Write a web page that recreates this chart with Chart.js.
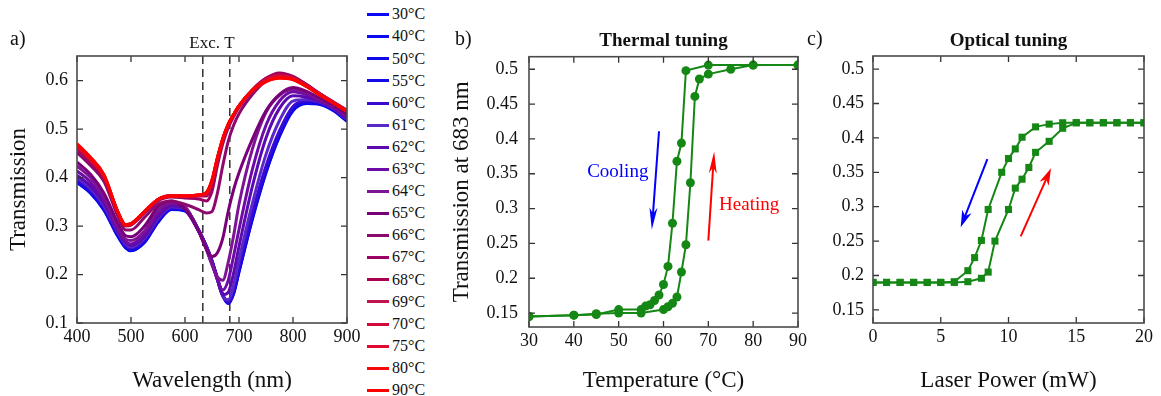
<!DOCTYPE html>
<html>
<head>
<meta charset="utf-8">
<script src="https://cdn.jsdelivr.net/npm/chart.js@4.4.0/dist/chart.umd.min.js"></script>
<style>
body{margin:0;background:#fff;width:1161px;height:396px;overflow:hidden;position:relative;font-family:"Liberation Serif",serif;color:#111;}
canvas{position:absolute;top:0;}
.lbl{position:absolute;font-size:20px;line-height:24px;}
.li{position:absolute;left:367px;height:22px;font-size:16px;line-height:22px;white-space:nowrap;}
.li span{display:inline-block;width:22px;height:3px;vertical-align:middle;margin-right:3px;position:relative;top:-1px;}
</style>
</head>
<body>
<canvas id="ca" width="367" height="396" style="left:0"></canvas>
<canvas id="cb" width="370" height="396" style="left:440px"></canvas>
<canvas id="cc" width="351" height="396" style="left:810px"></canvas>
<div id="legend"></div>
<div class="lbl" style="left:10px;top:26px">a)</div>
<div class="lbl" style="left:455px;top:26px">b)</div>
<div class="lbl" style="left:807px;top:26px">c)</div>
<script>
var F = "Liberation Serif";

// ---- panel a: spectra ----
var wavelengths = [400,425,450,475,490,500,525,550,575,600,625,640,650,660,670,680,690,700,725,750,775,800,825,850,875,900];
var temps = [30,40,50,55,60,61,62,63,64,65,66,67,68,69,70,75,80,90];
var colors = ['#0a0af5','#0a0af0','#0f0aeb','#140ae6','#3a0ad2','#5a28c8','#5a0aaf','#6e0aa5','#7d1496','#780078',
              '#8c0a6e','#9b0064','#aa0050','#be1450','#d20a3c','#e10a32','#f50a0a','#ff0000'];
var t30 = [0.390,0.368,0.333,0.280,0.255,0.249,0.266,0.308,0.334,0.331,0.290,0.255,0.226,0.190,0.156,0.140,0.160,0.205,0.315,0.410,0.485,0.538,0.553,0.551,0.538,0.516];
var t40 = [0.391,0.369,0.334,0.281,0.256,0.250,0.267,0.309,0.335,0.332,0.291,0.256,0.227,0.191,0.157,0.141,0.162,0.207,0.317,0.412,0.487,0.540,0.554,0.552,0.539,0.517];
var t50 = [0.393,0.371,0.336,0.282,0.257,0.251,0.268,0.310,0.336,0.333,0.292,0.257,0.228,0.192,0.158,0.142,0.164,0.209,0.320,0.415,0.489,0.541,0.555,0.553,0.540,0.518];
var t55 = [0.394,0.372,0.337,0.284,0.258,0.252,0.270,0.311,0.337,0.334,0.292,0.257,0.228,0.192,0.158,0.142,0.165,0.211,0.322,0.418,0.491,0.543,0.556,0.554,0.541,0.519];
var t60 = [0.396,0.374,0.339,0.286,0.260,0.254,0.272,0.313,0.338,0.335,0.293,0.257,0.228,0.192,0.157,0.143,0.168,0.216,0.328,0.424,0.497,0.547,0.558,0.555,0.542,0.520];
var t61 = [0.400,0.378,0.342,0.289,0.263,0.257,0.275,0.316,0.340,0.336,0.292,0.256,0.226,0.190,0.155,0.148,0.178,0.230,0.348,0.448,0.518,0.558,0.561,0.556,0.542,0.521];
var t62 = [0.405,0.383,0.347,0.292,0.266,0.260,0.278,0.319,0.342,0.337,0.291,0.254,0.224,0.189,0.158,0.163,0.203,0.258,0.383,0.482,0.543,0.569,0.566,0.557,0.543,0.523];
var t63 = [0.414,0.391,0.353,0.295,0.268,0.263,0.283,0.325,0.345,0.338,0.290,0.252,0.222,0.190,0.168,0.188,0.238,0.293,0.418,0.508,0.558,0.577,0.571,0.559,0.545,0.526];
var t64 = [0.424,0.400,0.360,0.300,0.273,0.270,0.290,0.332,0.348,0.340,0.290,0.250,0.220,0.195,0.188,0.225,0.280,0.345,0.460,0.535,0.570,0.582,0.575,0.561,0.547,0.528];
var t65 = [0.432,0.407,0.368,0.308,0.280,0.278,0.300,0.340,0.352,0.335,0.290,0.252,0.237,0.245,0.275,0.330,0.375,0.410,0.480,0.538,0.572,0.586,0.578,0.564,0.549,0.531];
var t66 = [0.452,0.425,0.392,0.322,0.292,0.292,0.318,0.345,0.352,0.345,0.334,0.327,0.330,0.368,0.425,0.475,0.508,0.532,0.572,0.600,0.613,0.607,0.592,0.573,0.556,0.539];
var t67 = [0.460,0.432,0.398,0.327,0.300,0.302,0.327,0.352,0.360,0.358,0.356,0.352,0.372,0.425,0.470,0.503,0.526,0.545,0.580,0.605,0.616,0.609,0.592,0.573,0.555,0.538];
var t68 = [0.462,0.434,0.400,0.329,0.302,0.304,0.329,0.354,0.362,0.361,0.362,0.362,0.385,0.435,0.477,0.508,0.530,0.548,0.582,0.605,0.614,0.607,0.591,0.572,0.555,0.538];
var t69 = [0.464,0.436,0.402,0.330,0.303,0.305,0.330,0.355,0.363,0.362,0.363,0.366,0.390,0.438,0.479,0.509,0.530,0.548,0.581,0.603,0.611,0.606,0.590,0.572,0.555,0.538];
var t70 = [0.465,0.437,0.403,0.331,0.303,0.305,0.330,0.355,0.363,0.362,0.364,0.368,0.393,0.440,0.480,0.510,0.530,0.548,0.580,0.601,0.609,0.605,0.589,0.571,0.554,0.537];
var t75 = [0.467,0.439,0.404,0.331,0.302,0.305,0.330,0.355,0.362,0.362,0.364,0.369,0.394,0.440,0.480,0.510,0.530,0.548,0.580,0.599,0.607,0.604,0.589,0.571,0.554,0.537];
var t80 = [0.469,0.441,0.405,0.331,0.302,0.304,0.330,0.355,0.362,0.362,0.364,0.370,0.395,0.441,0.481,0.510,0.530,0.548,0.580,0.598,0.606,0.603,0.588,0.571,0.554,0.537];
var t90 = [0.470,0.442,0.406,0.331,0.302,0.304,0.330,0.355,0.362,0.362,0.364,0.370,0.395,0.441,0.481,0.510,0.530,0.548,0.580,0.598,0.605,0.602,0.588,0.570,0.554,0.537];
var spectra = [t30,t40,t50,t55,t60,t61,t62,t63,t64,t65,t66,t67,t68,t69,t70,t75,t80,t90];
var xTicksA = [400,500,600,700,800,900];
var yTicksA = [0.1,0.2,0.3,0.4,0.5,0.6];

// ---- panel b: thermal tuning (T at 683 nm) ----
var heatT = [30,40,45,50,55,60,61,62,63,64,65,66,67,68,70,75,80,90];
var heatV = [0.145,0.147,0.149,0.150,0.150,0.155,0.159,0.164,0.173,0.209,0.248,0.337,0.461,0.486,0.493,0.500,0.506,0.506];
var coolT = [90,80,70,65,64,63,62,61,60,59,58,57,56,55,50,45,40,30];
var coolV = [0.506,0.506,0.506,0.498,0.394,0.368,0.279,0.217,0.191,0.176,0.168,0.162,0.160,0.155,0.155,0.148,0.147,0.145];
var xTicksB = [30,40,50,60,70,80,90];

// ---- panel c: optical tuning ----
var upP = [0,1,2,3,4,5,6,7,8,8.5,9,10,10.5,11,11.5,12,13,14,15,16,17,18,19,20];
var upV = [0.19,0.19,0.19,0.19,0.19,0.19,0.19,0.191,0.196,0.205,0.250,0.296,0.327,0.340,0.357,0.379,0.395,0.414,0.422,0.422,0.422,0.422,0.422,0.422];
var downP = [20,19,18,17,16,15,14,13,12,11,10.5,10,9.5,8.5,8,7.5,7,6,5,4,3,2,1,0];
var downV = [0.422,0.422,0.422,0.422,0.422,0.422,0.422,0.420,0.416,0.401,0.384,0.370,0.350,0.296,0.251,0.226,0.207,0.191,0.19,0.19,0.19,0.19,0.19,0.19];
var xTicksC = [0,5,10,15,20];
var yTicksBC = [0.15,0.2,0.25,0.3,0.35,0.4,0.45,0.5];

function pts(xs, ys){ return xs.map(function(x,i){ return {x:x, y:ys[i]}; }); }
function fixTicks(list){ return function(s){ s.ticks = list.map(function(v){ return {value:v}; }); }; }
function fmt(v){ return String(+v.toFixed(2)); }

// box + inward ticks on all four sides
var frameTicks = {
  id: 'frameTicks',
  afterDatasetsDraw: function(chart){
    var ctx = chart.ctx, a = chart.chartArea, xs = chart.scales.x, ys = chart.scales.y;
    ctx.save();
    ctx.strokeStyle = '#333'; ctx.lineWidth = 1.3;
    ctx.beginPath();
    xs.ticks.forEach(function(t){
      var px = xs.getPixelForValue(t.value);
      ctx.moveTo(px, a.bottom); ctx.lineTo(px, a.bottom - 6);
      ctx.moveTo(px, a.top); ctx.lineTo(px, a.top + 6);
    });
    ys.ticks.forEach(function(t){
      var py = ys.getPixelForValue(t.value);
      ctx.moveTo(a.left, py); ctx.lineTo(a.left + 6, py);
      ctx.moveTo(a.right, py); ctx.lineTo(a.right - 6, py);
    });
    ctx.stroke();
    ctx.strokeStyle = '#4a4a4a'; ctx.lineWidth = 1.6;
    ctx.strokeRect(a.left, a.top, a.right - a.left, a.bottom - a.top);
    ctx.restore();
  }
};

function drawArrow(ctx, x0, y0, x1, y1, color, len, w){
  var ang = Math.atan2(y1 - y0, x1 - x0), c = Math.cos(ang), s = Math.sin(ang);
  ctx.strokeStyle = color; ctx.fillStyle = color; ctx.lineWidth = 2;
  ctx.beginPath(); ctx.moveTo(x0, y0); ctx.lineTo(x1 - len*0.7*c, y1 - len*0.7*s); ctx.stroke();
  ctx.beginPath();
  ctx.moveTo(x1, y1);
  ctx.lineTo(x1 - len*c - w/2*s, y1 - len*s + w/2*c);
  ctx.lineTo(x1 - len*0.72*c, y1 - len*0.72*s);
  ctx.lineTo(x1 - len*c + w/2*s, y1 - len*s - w/2*c);
  ctx.closePath(); ctx.fill();
}

var annot = {
  id: 'annot',
  beforeDatasetsDraw: function(chart, args, opts){
    var ctx = chart.ctx, a = chart.chartArea, xs = chart.scales.x;
    (opts.vlines || []).forEach(function(v){
      var px = xs.getPixelForValue(v);
      ctx.save(); ctx.strokeStyle = '#111'; ctx.lineWidth = 1.3; ctx.setLineDash([8,5]);
      ctx.beginPath(); ctx.moveTo(px, a.top); ctx.lineTo(px, a.bottom); ctx.stroke();
      ctx.restore();
    });
  },
  afterDatasetsDraw: function(chart, args, opts){
    var ctx = chart.ctx, xs = chart.scales.x, ys = chart.scales.y;
    ctx.save();
    (opts.arrows || []).forEach(function(r){
      drawArrow(ctx, xs.getPixelForValue(r.x0), ys.getPixelForValue(r.y0),
                xs.getPixelForValue(r.x1), ys.getPixelForValue(r.y1), r.color, r.len, r.w);
    });
    (opts.texts || []).forEach(function(t){
      ctx.font = '19px "' + F + '"'; ctx.fillStyle = t.color;
      ctx.textAlign = 'center'; ctx.textBaseline = 'middle';
      ctx.fillText(t.text, xs.getPixelForValue(t.x), ys.getPixelForValue(t.y));
    });
    ctx.restore();
  }
};

function axisX(min, max, ticks, title, h){
  return {
    type: 'linear', min: min, max: max,
    grid: {display: false, drawTicks: false}, border: {display: false},
    ticks: {font: {family: F, size: 18}, color: '#111', padding: 3, maxRotation: 0},
    afterBuildTicks: fixTicks(ticks),
    afterFit: function(s){ s.height = h; },
    title: {display: true, text: title, color: '#111', font: {family: F, size: 23}, padding: {top: 0, bottom: 1}}
  };
}
function axisY(min, max, ticks, title, w, pad, tpad){
  return {
    type: 'linear', min: min, max: max,
    grid: {display: false, drawTicks: false}, border: {display: false},
    ticks: {font: {family: F, size: 18}, color: '#111', padding: pad, callback: fmt},
    afterBuildTicks: fixTicks(ticks),
    afterFit: function(s){ s.width = w; },
    title: {display: !!title, text: title, color: '#111', font: {family: F, size: 23}, padding: {top: tpad, bottom: 0}}
  };
}

// panel a
new Chart(document.getElementById('ca'), {
  type: 'line',
  data: {
    datasets: spectra.map(function(s, i){
      return {label: temps[i] + '°C', data: pts(wavelengths, s), borderColor: colors[i],
              borderWidth: 3, pointRadius: 0, cubicInterpolationMode: 'monotone', order: spectra.length - i};
    })
  },
  options: {
    responsive: false, animation: false,
    layout: {padding: {left: 0, right: 20, top: 0, bottom: 0}},
    plugins: {
      legend: {display: false}, tooltip: {enabled: false},
      title: {display: true, text: 'Exc. T', fullSize: false, color: '#111',
              font: {family: F, size: 17, weight: 'normal'}, padding: {top: 33, bottom: 2.6}},
      annot: {vlines: [633, 683]}
    },
    scales: {
      x: axisX(400, 900, xTicksA, 'Wavelength (nm)', 73),
      y: axisY(0.1, 0.651, yTicksA, 'Transmission', 77, 9, 5)
    }
  },
  plugins: [annot, frameTicks]
});

// legend for panel a
var leg = document.getElementById('legend');
temps.forEach(function(t, i){
  var d = document.createElement('div');
  d.className = 'li';
  d.style.top = (3.3 + i*22.1) + 'px';
  d.innerHTML = '<span style="background:' + colors[i] + '"></span>' + t + '°C';
  leg.appendChild(d);
});

var green = 'rgb(20,135,20)';

// panel b
new Chart(document.getElementById('cb'), {
  type: 'line',
  data: {
    datasets: [
      {label: 'Heating', data: pts(heatT, heatV), borderColor: green, backgroundColor: green,
       borderWidth: 2, pointRadius: 4.5, pointBorderWidth: 0, pointBackgroundColor: green},
      {label: 'Cooling', data: pts(coolT, coolV), borderColor: green, backgroundColor: green,
       borderWidth: 2, pointRadius: 4.5, pointBorderWidth: 0, pointBackgroundColor: green}
    ]
  },
  options: {
    responsive: false, animation: false,
    layout: {padding: {left: 0, right: 11, top: 0, bottom: 0}},
    plugins: {
      legend: {display: false}, tooltip: {enabled: false},
      title: {display: true, text: 'Thermal tuning', fullSize: false, color: '#111',
              font: {family: F, size: 19, weight: 'bold'}, padding: {top: 30, bottom: 3.9}},
      annot: {
        arrows: [
          {x0: 59.0, y0: 0.411, x1: 57.4, y1: 0.270, color: '#0000ff', len: 22, w: 8},
          {x0: 70.0, y0: 0.254, x1: 71.3, y1: 0.382, color: '#ff0000', len: 22, w: 8}
        ],
        texts: [
          {x: 49.8, y: 0.353, text: 'Cooling', color: '#0000ff'},
          {x: 79.1, y: 0.305, text: 'Heating', color: '#ff0000'}
        ]
      }
    },
    scales: {
      x: axisX(30, 90, xTicksB, 'Temperature (°C)', 69),
      y: axisY(0.13, 0.518, yTicksBC, 'Transmission at 683 nm', 89, 11, 8)
    }
  },
  plugins: [annot, frameTicks]
});

// panel c
new Chart(document.getElementById('cc'), {
  type: 'line',
  data: {
    datasets: [
      {label: 'up', data: pts(upP, upV), borderColor: green, backgroundColor: green,
       borderWidth: 2, pointStyle: 'rect', pointRadius: 5, pointBorderWidth: 0, pointBackgroundColor: green},
      {label: 'down', data: pts(downP, downV), borderColor: green, backgroundColor: green,
       borderWidth: 2, pointStyle: 'rect', pointRadius: 5, pointBorderWidth: 0, pointBackgroundColor: green}
    ]
  },
  options: {
    responsive: false, animation: false,
    layout: {padding: {left: 0, right: 17, top: 0, bottom: 0}},
    plugins: {
      legend: {display: false}, tooltip: {enabled: false},
      title: {display: true, text: 'Optical tuning', fullSize: false, color: '#111',
              font: {family: F, size: 19, weight: 'bold'}, padding: {top: 30, bottom: 3.2}},
      annot: {
        arrows: [
          {x0: 8.44, y0: 0.369, x1: 6.47, y1: 0.270, color: '#0000ff', len: 17, w: 10},
          {x0: 10.9, y0: 0.257, x1: 13.14, y1: 0.356, color: '#ff0000', len: 17, w: 10}
        ]
      }
    },
    scales: {
      x: axisX(0, 20, xTicksC, 'Laser Power (mW)', 73),
      y: axisY(0.131, 0.519, yTicksBC, '', 63, 9, 0)
    }
  },
  plugins: [annot, frameTicks]
});
</script>
</body>
</html>
